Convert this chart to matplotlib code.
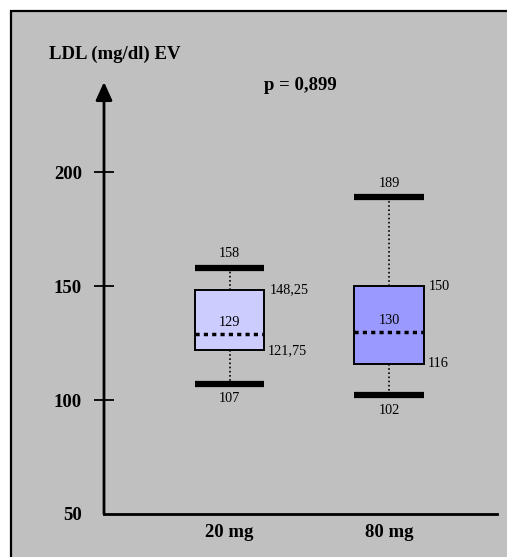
import matplotlib.pyplot as plt
from matplotlib.patches import Rectangle

plt.rcParams['font.family'] = ['Liberation Serif', 'DejaVu Serif']

# %% data
groups = ['20 mg', '80 mg']
whis_lo = [107, 102]
q1 = [121.75, 116]
med = [129, 130]
q3 = [148.25, 150]
whis_hi = [158, 189]
q1_labels = ['121,75', '116']
q3_labels = ['148,25', '150']
box_colors = ['#ccccff', '#9999ff']
yticks = [50, 100, 150, 200]
p_text = 'p = 0,899'
ylabel = 'LDL (mg/dl) EV'

# %% figure
W, H = 507, 557
fig = plt.figure(figsize=(W / 100, H / 100), dpi=100)
fig.patch.set_facecolor('white')
fig.patches.append(Rectangle((11 / W, -0.1), 1.2, 1.1 - 11 / H, transform=fig.transFigure,
                             facecolor='#c0c0c0', edgecolor='black', lw=1.6, zorder=-1))

ax = fig.add_axes([104 / W, 43 / H, 393 / W, (514 - 82) / H])
ax.set_facecolor('none')
ax.set_zorder(1)

stats = []
for i, g in enumerate(groups):
    stats.append(dict(label=g, whislo=whis_lo[i], q1=q1[i], med=med[i], q3=q3[i], whishi=whis_hi[i], fliers=[]))

pos = [1, 2]
bw = 0.433
bp = ax.bxp(stats, positions=pos, widths=bw, capwidths=bw, patch_artist=True,
            boxprops=dict(edgecolor='black', lw=1.4),
            whiskerprops=dict(color='black', lw=1.2, ls=(0, (1, 1.5))),
            capprops=dict(color='black', lw=4.5, solid_capstyle='butt'),
            medianprops=dict(color='black', lw=2.5, ls=(0, (1.2, 1.2))),
            showfliers=False)
for patch, c in zip(bp['boxes'], box_colors):
    patch.set_facecolor(c)
for m in bp['medians']:
    m.set_zorder(5)

ax.set_xlim(0.213, 2.677)
ax.set_ylim(50, 239.5)

# value labels
for i in range(len(groups)):
    x = pos[i]
    ax.annotate(str(whis_hi[i]), (x, whis_hi[i]), xytext=(0, 10), textcoords='offset points',
                ha='center', va='center', fontsize=10.3)
    ax.annotate(str(whis_lo[i]), (x, whis_lo[i]), xytext=(0, -10.5), textcoords='offset points',
                ha='center', va='center', fontsize=10.3)
    ax.annotate(str(med[i]), (x, med[i]), xytext=(0, 8), textcoords='offset points',
                ha='center', va='center', fontsize=10.3, zorder=6)
    ax.annotate(q3_labels[i], (x + bw / 2, q3[i]), xytext=(4, 0), textcoords='offset points',
                ha='left', va='center', fontsize=10.3)
    ax.annotate(q1_labels[i], (x + bw / 2, q1[i]), xytext=(3, 0), textcoords='offset points',
                ha='left', va='center', fontsize=10.3)

# axes styling
for s in ['left', 'top', 'right']:
    ax.spines[s].set_visible(False)
ax.spines['bottom'].set_linewidth(2)
ax.annotate('', xy=(0, 1), xytext=(0, 0), xycoords='axes fraction', textcoords='axes fraction',
            arrowprops=dict(arrowstyle='-|>,head_length=1.1,head_width=0.5', color='black', lw=2,
                            shrinkA=0, shrinkB=0, mutation_scale=10), annotation_clip=False)

ax.set_yticks(yticks)
ax.set_yticklabels([str(v) for v in yticks], fontsize=13.5, fontweight='bold')
ax.tick_params(axis='y', direction='inout', length=14, width=1.3, pad=9)
ax.yaxis.get_major_ticks()[0].tick1line.set_visible(False)
ax.set_xticks(pos)
ax.set_xticklabels(groups, fontsize=13.5, fontweight='bold')
ax.tick_params(axis='x', length=0, pad=7)

fig.text(49 / W, 1 - 54 / H, ylabel, fontsize=13.5, fontweight='bold', ha='left', va='center')
fig.text(300 / W, 1 - 86 / H, p_text, fontsize=13.5, fontweight='bold', ha='center', va='center')

fig.savefig('out.png', dpi=100)
